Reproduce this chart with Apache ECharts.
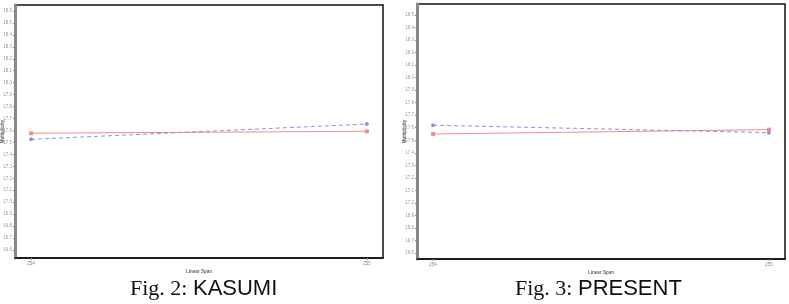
<!DOCTYPE html>
<html><head><meta charset="utf-8">
<script src="https://cdn.jsdelivr.net/npm/echarts@6/dist/echarts.min.js"></script>
<style>html,body{margin:0;padding:0;background:#fff}#c{width:789px;height:304px}</style>
</head><body><div id="c"></div>
<script>
const xCategories = [254, 255];
const kasumiRed = [17.577, 17.593];
const kasumiBlue = [17.526, 17.654];
const presentRed = [17.55, 17.585];
const presentBlue = [17.62, 17.561];
const yTicks = [16.6,16.7,16.8,16.9,17.0,17.1,17.2,17.3,17.4,17.5,17.6,17.7,17.8,17.9,18.0,18.1,18.2,18.3,18.4,18.5,18.6];
const captions = [['Fig. 2:', 'KASUMI'], ['Fig. 3:', 'PRESENT']];

const chart = echarts.init(document.getElementById('c'));
const RED = '#f08c8c', BLUE = '#8f8ff0';
function pts(vals){ return xCategories.map((x,i)=>[x, vals[i]]); }
function xAxis(gi){
  return {type:'value', gridIndex:gi, min:253.952, max:255.048,
    axisLine:{show:true, lineStyle:{color:'#111', width:1.5}},
    axisTick:{show:true, customValues:xCategories, length:2, lineStyle:{color:'#888'}},
    axisLabel:{customValues:xCategories, fontSize:4.5, color:'#888', margin:3, formatter:v=>String(v)},
    splitLine:{show:false},
    name:'Linear Span', nameLocation:'middle', nameGap:11, nameMoveOverlap:false,
    nameTextStyle:{fontSize:4.5, color:'#666', fontWeight:'bold'}};
}
function yAxis(gi, min, max){
  return {type:'value', gridIndex:gi, min:min, max:max,
    axisLine:{show:true, lineStyle:{color:'#888', width:3}},
    axisTick:{show:true, customValues:yTicks, length:2, lineStyle:{color:'#888'}},
    axisLabel:{customValues:yTicks, fontSize:4.5, color:'#999', margin:3, formatter:v=>v.toFixed(1)},
    splitLine:{show:false},
    name:'Multiplicity', nameLocation:'middle', nameGap:10, nameRotate:90, nameMoveOverlap:false,
    nameTextStyle:{fontSize:4.5, color:'#666', fontWeight:'bold'}};
}
function line(gi, data, color, dashed, sym){
  return {type:'line', xAxisIndex:gi, yAxisIndex:gi, data:pts(data),
    symbol:sym, symbolSize:4, showSymbol:true,
    lineStyle:{color:color, width:1, type: dashed ? [4,3] : 'solid'},
    itemStyle:{color:color}};
}
chart.setOption({
  animation:false,
  grid:[
    {left:15, top:5, width:368, height:253, show:true, borderColor:'#111', borderWidth:1.5, backgroundColor:'#fff', outerBoundsMode:'none', containLabel:false},
    {left:417, top:4, width:368, height:255, show:true, borderColor:'#111', borderWidth:1.5, backgroundColor:'#fff', outerBoundsMode:'none', containLabel:false}
  ],
  xAxis:[xAxis(0), xAxis(1)],
  yAxis:[yAxis(0, 16.533, 18.65), yAxis(1, 16.552, 18.588)],
  title: captions.map((c,i)=>({
    text:'{s|'+c[0]+' }{n|'+c[1]+'}', left: i===0 ? 130 : 515, top:278, padding:0,
    textStyle:{fontWeight:'normal', rich:{
      s:{fontFamily:'Liberation Serif', fontSize:22, color:'#111', fontWeight:'normal'},
      n:{fontFamily:'Liberation Sans', fontSize:22, color:'#111', fontWeight:'normal'}}}
  })),
  series:[
    line(0, kasumiRed, RED, false, 'rect'),
    line(0, kasumiBlue, BLUE, true, 'circle'),
    line(1, presentRed, RED, false, 'rect'),
    line(1, presentBlue, BLUE, true, 'circle')
  ]
});
</script></body></html>
